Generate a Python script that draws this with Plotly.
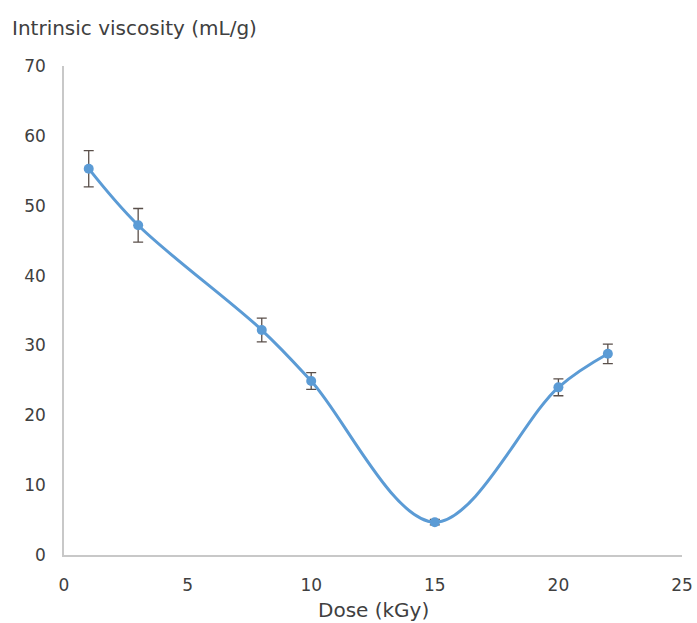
import plotly.graph_objects as go

dose = [1, 3, 8, 10, 15, 20, 22]
viscosity = [55.3, 47.2, 32.2, 24.9, 4.7, 24.0, 28.8]
error = [2.6, 2.4, 1.7, 1.2, 0.4, 1.2, 1.4]

x_ticks = [0, 5, 10, 15, 20, 25]
y_ticks = [0, 10, 20, 30, 40, 50, 60, 70]

font_family = "DejaVu Sans, Verdana, sans-serif"
text_color = "#404040"

W, H = 697, 623
L, R, T, B = 64, 15, 66, 68
plot_w = W - L - R
plot_h = H - T - B

fig = go.Figure()
fig.add_trace(go.Scatter(
    x=dose, y=viscosity,
    mode="lines+markers",
    line=dict(color="#5B9BD5", width=3, shape="spline", smoothing=1),
    marker=dict(color="#5B9BD5", size=10),
    error_y=dict(type="data", array=error, visible=True,
                 color="#5a4f4a", thickness=1.3, width=5),
    showlegend=False,
))

fig.update_layout(
    width=W, height=H,
    margin=dict(l=L, r=R, t=T, b=B),
    paper_bgcolor="white", plot_bgcolor="white",
    font=dict(family=font_family, size=17, color=text_color),
    xaxis=dict(range=[0, 25], tickvals=x_ticks, showgrid=False, zeroline=False,
               showline=True, linecolor="#c8c8c8", linewidth=1.5, ticks="",
               ticklabelstandoff=14, automargin=False,
               tickfont=dict(size=17, color=text_color)),
    yaxis=dict(range=[0, 70], tickvals=y_ticks, showgrid=False, zeroline=False,
               showline=True, linecolor="#c8c8c8", linewidth=1.5, ticks="",
               ticklabelstandoff=13, automargin=False,
               tickfont=dict(size=17, color=text_color)),
    annotations=[
        dict(text="Intrinsic viscosity (mL/g)",
             x=(10 - L) / plot_w, y=(H - B - 28) / plot_h,
             xref="paper", yref="paper", showarrow=False,
             xanchor="left", yanchor="middle",
             font=dict(size=20, color=text_color)),
        dict(text="Dose (kGy)",
             x=(373 - L) / plot_w, y=(H - B - 610) / plot_h,
             xref="paper", yref="paper", showarrow=False,
             xanchor="center", yanchor="middle",
             font=dict(size=20, color=text_color)),
    ],
)

fig.write_html(
    "out.html",
    config={"displayModeBar": False},
    post_script="document.body.style.margin='0';document.body.style.overflow='hidden';",
)
